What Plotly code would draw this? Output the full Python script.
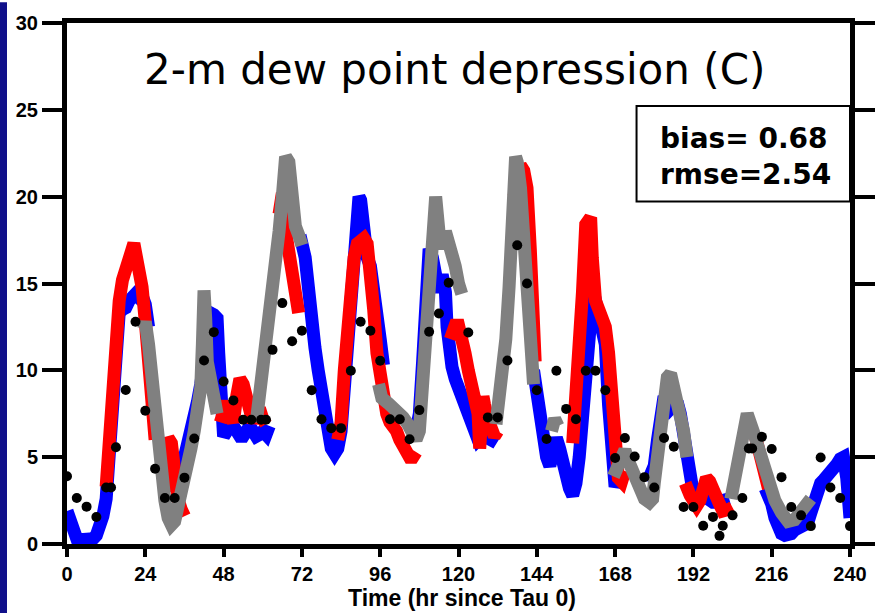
import plotly.graph_objects as go

# ---------------- data (hours since Tau 0, dew point depression in C) ----------------
x_ticks = [0, 24, 48, 72, 96, 120, 144, 168, 192, 216, 240]
y_ticks = [0, 5, 10, 15, 20, 25, 30]

# blue model run (None = hidden / gap)
blue_pts = [(0,1.9),(1,1.3),(2,0.7),(3,0.3),(4,0.25),(5,0.25),(6,0.25),(7,0.25),(8,0.3),(9,0.5),
            (10,0.9),(11,1.6),(12,2.6),(13,5.5),(14,9.0),(15,12.0),(16,13.3),(17,13.5),(18,13.6),
            (19,14.0),(20,14.3),(21,14.4),(22,14.2),(23,14.3),(24,13.8),(25,12.5),None,
            (33.5,3.0),(34,3.4),(35,3.8),(36,4.5),(37,5.2),(38,6.0),(39,7.0),(40,8.2),(41,9.2),
            (42,10.5),(42.5,12.5),(43,13.2),(44,13.3),(45,13.2),(46,13.0),(46.5,11.0),(47,9.5),
            (47.5,7.5),(48,6.2),(49,6.5),(50,7.0),(51,6.8),(52,6.3),(53,6.2),(54,6.2),(55,6.6),
            (56,6.8),(57,6.5),(58,6.2),(59,6.3),(60,6.5),(61,6.3),(62,6.8),None,
            (71,17.2),(72,17.3),(73,16.5),(74,14.0),(75,12.8),(76,11.3),(77,10.0),(78,8.6),(79,7.5),
            (80,6.3),(81,5.5),(82,5.2),(83,5.5),(84,6.5),(85,9.0),(86,12.5),(87,15.5),(88,17.5),
            (89,19.5),(89.5,20.0),(90,19.8),(91,17.5),(92,16.5),(93,16.0),(94,15.0),(95,13.2),
            (96,11.8),(97,10.3),None,
            (105,6.3),(106,6.3),(107,6.5),(108,7.5),(109,10.5),(110,14.0),(111,17.0),(112,16.5),
            (113,15.5),(114,14.5),(115,15.5),(116,14.5),(116.5,12.5),(117,11.0),(118,10.2),(119,9.5),
            (120,9.0),(121,8.5),(122,7.5),(123,7.0),(124,6.8),(125,6.5),(126,6.0),(127,6.2),(128,6.4),
            (129,6.1),(130,6.0),(131,6.3),None,
            (143,10.0),(144,8.5),(145,7.0),(146,6.0),(147,5.0),(148,4.5),(149,5.5),(150,6.1),(151,5.5),
            (152,4.5),(153,3.8),(154,3.2),(155,2.8),(156,3.5),(157,5.0),(158,8.0),(159,11.0),(160,13.0),
            (161,14.0),(162,14.0),(163,13.2),(164,12.5),(165,11.5),(166,8.0),(167,5.0),(168,3.3),
            (169,3.8),(170,4.2),None,
            (178,3.6),(179,3.9),(180,4.5),(181,6.0),(182,7.5),(183,8.5),(184,8.2),(185,7.8),(186,8.0),
            (187,8.2),(188,7.5),(189,6.2),(190,4.5),(191,3.3),(192,2.9),(193,3.0),(194,3.1),(195,2.8),
            (196,2.6),(197,2.5),(198,2.4),(199,2.4),(200,2.5),(201,2.6),(202,2.6),(203,2.6),None,
            (214,3.2),(215,2.8),(216,2.3),(217,1.5),(218,0.9),(219,0.6),(220,0.5),(221,0.5),(222,0.6),
            (223,0.8),(224,0.9),(225,0.9),(226,0.9),(227,1.2),(228,1.8),(229,2.6),(230,3.2),(231,3.5),
            (232,3.7),(233,3.9),(234,4.1),(235,4.2),(236,4.6),(237,4.9),(238,5.0),(239,3.8),(240,1.5)]

# red model run
red_pts = [(12,3.3),(12.5,4.8),(13.5,8.6),(15,12.4),(16,14.0),(17,15.2),(18,16.1),(19,16.5),(20,17.0),
           (20.5,17.3),(21,16.8),(22,16.1),(23,14.8),(24,12.8),(25,10.0),(26,7.5),(27,6.0),None,
           (30,3.0),(30.5,5.5),(31,6.1),(32,5.8),(32.5,4.5),(33,3.5),(34,2.6),(35,2.0),(36,1.6),None,
           (47,7.0),(48,8.2),(49,8.2),(50,7.5),(51,7.0),(52,8.5),(53,9.5),(54,9.2),(55,8.6),(56,7.8),
           (57,7.0),(58,7.5),(59,7.8),(60,7.2),(61,6.9),None,
           (65,19.0),(66,20.2),(67,18.0),(68,17.0),(69,16.0),(70,14.5),(71,13.3),None,
           (83,6.0),(84,7.0),(85,10.0),(86,13.0),(87,15.5),(88,16.5),(89,17.3),(90,17.5),(91,17.6),
           (92,17.3),(93,16.0),(94,13.5),(95,11.0),(96,9.5),(97,8.5),(98,7.5),(99,7.0),(100,6.8),
           (101,6.5),(102,6.0),(103,5.5),(104,5.2),(105,5.0),(106,5.0),(107,5.3),None,
           (117.5,11.8),(118,12.3),(119,12.6),(120,12.6),(121,12.0),(122,11.0),(123,10.0),(124,9.2),
           (125,8.6),(126,7.5),(126.5,5.5),(127,6.5),(127.5,8.5),(128,8.0),(129,7.2),(130,6.5),
           (131,6.2),(132,6.5),None,
           (137,20.0),(138,21.0),(139,21.8),(140,21.5),(141,20.5),(142,17.0),(143,12.5),(143.5,10.5),None,
           (155,5.8),(156,8.0),(157,10.5),(158,14.5),(159,18.4),(160,18.8),(160.5,18.8),(161,16.5),
           (161.5,14.8),(162,14.0),(163,13.5),(164,13.0),(165,12.5),(166,11.0),(167,7.5),(168,4.8),
           (169,3.8),(170,3.6),(171,4.2),None,
           (189.5,3.5),(190,3.0),(191,2.8),(192,2.5),(193,2.2),(194,2.5),(195,3.2),(196,3.8),(197,3.6),
           (198,3.0),(199,2.6),(200,2.3),(201,1.9),(202,1.9),(203,2.0),(204,2.1),None,
           (211,6.2),(212,5.6),(213,4.8),(214,3.8),(215,3.2)]

# gray model run
gray_pts = [(23.5,12.4),(24,12.8),(25,11.5),(26,9.5),(27,6.7),(28,5.2),(29,3.9),(30,2.5),(31,1.5),
            (32,1.1),(33,1.3),(34,2.0),(35,2.8),(36,3.7),(37,4.5),(38,5.5),(39,6.5),(40,8.0),(41,9.0),
            (41.5,11.5),(42,14.6),(42.5,13.0),(43,10.5),(44,9.5),(45,8.5),(46,7.5),None,
            (58,7.0),(59,8.5),(60,9.8),(61,10.8),(62,12.0),(63,13.5),(64,15.5),(65,18.0),(66,20.0),
            (67,22.3),(68,22.0),(69,19.5),(70,18.3),(71,17.8),(72,17.2),None,
            (95.5,9.2),(96.5,8.4),(98.5,8.1),(100,7.9),(101.5,7.7),(103,7.3),(104.5,6.9),(106,6.3),
            (107,6.0),(108,6.5),(109,9.0),(110,13.5),(111,16.0),(112,17.5),(113,20.0),(114,18.0),
            (115,17.0),(116,18.0),(117,17.5),(118,16.5),(119,16.0),(120,15.0),(121,14.4),None,
            (131.5,6.9),(133,9.2),(134.5,11.8),(135.5,14.8),(136.5,18.6),(137,21.4),(137.5,22.3),
            (138,22.0),(139,20.5),(140,17.7),(141,14.8),(142,12.0),(143,9.2),None,
            (148.5,6.5),(149.5,7.2),(150.5,6.8),None,
            (167.5,3.9),(169,4.8),(171,5.4),(172.5,4.6),(174,3.9),(175.5,3.2),(177,2.6),(178.5,2.4),
            (179.5,2.6),(180,3.5),(181,5.0),(182,7.0),(183,8.5),(184,9.6),(185,9.8),(186,9.0),
            (187,8.6),(188,8.0),(189,6.5),(190,5.0),None,
            (203.5,2.6),(205.5,4.5),(207,6.4),(208.5,7.5),(210.5,6.4),(212.5,5.0),(214.5,3.7),
            (216,3.0),(217,2.5),(219,1.8),(221,1.3),(223,1.4),(225,1.8),(227,2.3),(228,2.6)]

# observations (black dots)
obs_t = [0, 3, 6, 9, 12, 13.5, 15, 18, 21, 24,
         27, 30, 33, 36, 39, 42, 45, 48, 51, 54,
         56.5, 59.5, 61, 63, 66, 69, 72, 75, 78, 81,
         84, 87, 90, 93, 96, 99, 102, 105, 108, 111,
         114, 117, 123, 129, 132, 135, 138, 141, 144, 147,
         150, 153, 156, 159, 162, 165, 168, 171, 174, 177,
         180, 183, 186, 189, 192, 195, 198, 200, 201, 204,
         207, 209, 210, 213, 216, 219, 222, 225, 228, 231,
         234, 237, 240]
obs_v = [3.9, 2.65, 2.15, 1.55, 3.25, 3.25, 5.57, 8.87, 12.8, 7.67,
         4.33, 2.65, 2.65, 3.82, 6.07, 10.57, 12.2, 9.36, 8.27, 7.15,
         7.15, 7.15, 7.15, 11.18, 13.87, 11.67, 12.28, 8.85, 7.18, 6.67,
         6.67, 9.98, 12.8, 12.28, 10.55, 7.18, 7.18, 6.03, 7.71, 12.22,
         13.27, 15.04, 12.18, 7.29, 7.29, 10.57, 17.2, 15.0, 8.85, 6.05,
         9.98, 7.78, 7.18, 9.98, 9.98, 8.85, 4.95, 6.1, 5.04, 3.85,
         3.25, 6.1, 5.6, 2.13, 2.13, 1.05, 1.56, 0.47, 1.05, 1.65,
         2.65, 5.5, 5.5, 6.17, 5.47, 3.85, 2.13, 1.65, 1.03, 4.98,
         3.25, 2.65, 1.03]

title_text = "2-m dew point depression (C)"
stats_lines = ["bias= 0.68", "rmse=2.54"]
x_title = "Time (hr since Tau 0)"


def unzip(pts):
    xs, ys = [], []
    for p in pts:
        if p is None:
            xs.append(None); ys.append(None)
        else:
            xs.append(p[0]); ys.append(p[1])
    return xs, ys


fig = go.Figure()
for pts, col in [(blue_pts, "#0000ff"), (red_pts, "#ff0000"), (gray_pts, "#808080")]:
    xs, ys = unzip(pts)
    fig.add_trace(go.Scatter(x=xs, y=ys, mode="lines", connectgaps=False,
                             line=dict(color=col, width=13), hoverinfo="skip",
                             showlegend=False))

fig.add_trace(go.Scatter(x=obs_t, y=obs_v, mode="markers", cliponaxis=False,
                         marker=dict(color="black", size=10, symbol="circle"),
                         showlegend=False))

# plot-area pixel mapping helpers (for annotations)
L, R, T, B = 67, 24, 16, 69
W, H = 887, 613
pw, ph = W - L - R, H - T - B


def px(x):
    return (x - L) / pw


def py(y):
    return (H - B - y) / ph


tick_font = dict(family="Liberation Sans, Arial, sans-serif", size=20, color="black", weight="bold")

fig.update_layout(
    width=W, height=H,
    margin=dict(l=L, r=R, t=T, b=B, pad=0),
    paper_bgcolor="white", plot_bgcolor="white",
    xaxis=dict(range=[0, 240], tickvals=x_ticks, ticktext=[str(v) for v in x_ticks],
               ticks="outside", ticklen=8, tickwidth=4, tickcolor="black",
               showline=True, linewidth=5, linecolor="black", mirror=True,
               showgrid=False, zeroline=False, tickfont=tick_font),
    yaxis=dict(range=[0, 30], tickvals=y_ticks, ticktext=[str(v) for v in y_ticks],
               ticks="outside", ticklen=20, tickwidth=4, tickcolor="black",
               showline=True, linewidth=5, linecolor="black", mirror="ticks",
               showgrid=False, zeroline=False, tickfont=tick_font),
    shapes=[
        dict(type="rect", xref="paper", yref="paper",
             x0=px(-2), x1=px(6), y0=py(H + 5), y1=py(-5),
             fillcolor="#10108a", line=dict(width=0), layer="above"),
        dict(type="rect", xref="paper", yref="paper",
             x0=px(646), x1=px(863), y0=py(197), y1=py(100),
             fillcolor="white", line=dict(color="black", width=2), layer="above"),
    ],
    annotations=[
        dict(text=title_text, xref="paper", yref="paper", x=px(461), y=py(63),
             xanchor="center", yanchor="middle", showarrow=False,
             font=dict(family="DejaVu Sans", size=42, color="black")),
        dict(text=stats_lines[0], xref="paper", yref="paper", x=px(668), y=py(133),
             xanchor="left", yanchor="middle", showarrow=False,
             font=dict(family="DejaVu Sans", size=28, color="black", weight="bold")),
        dict(text=stats_lines[1], xref="paper", yref="paper", x=px(668), y=py(170),
             xanchor="left", yanchor="middle", showarrow=False,
             font=dict(family="DejaVu Sans", size=28, color="black", weight="bold")),
        dict(text=x_title, xref="paper", yref="paper", x=px(469), y=py(599),
             xanchor="center", yanchor="middle", showarrow=False,
             font=dict(family="Liberation Sans, Arial, sans-serif", size=23,
                       color="black", weight="bold")),
    ],
)

fig.write_html("out.html")
